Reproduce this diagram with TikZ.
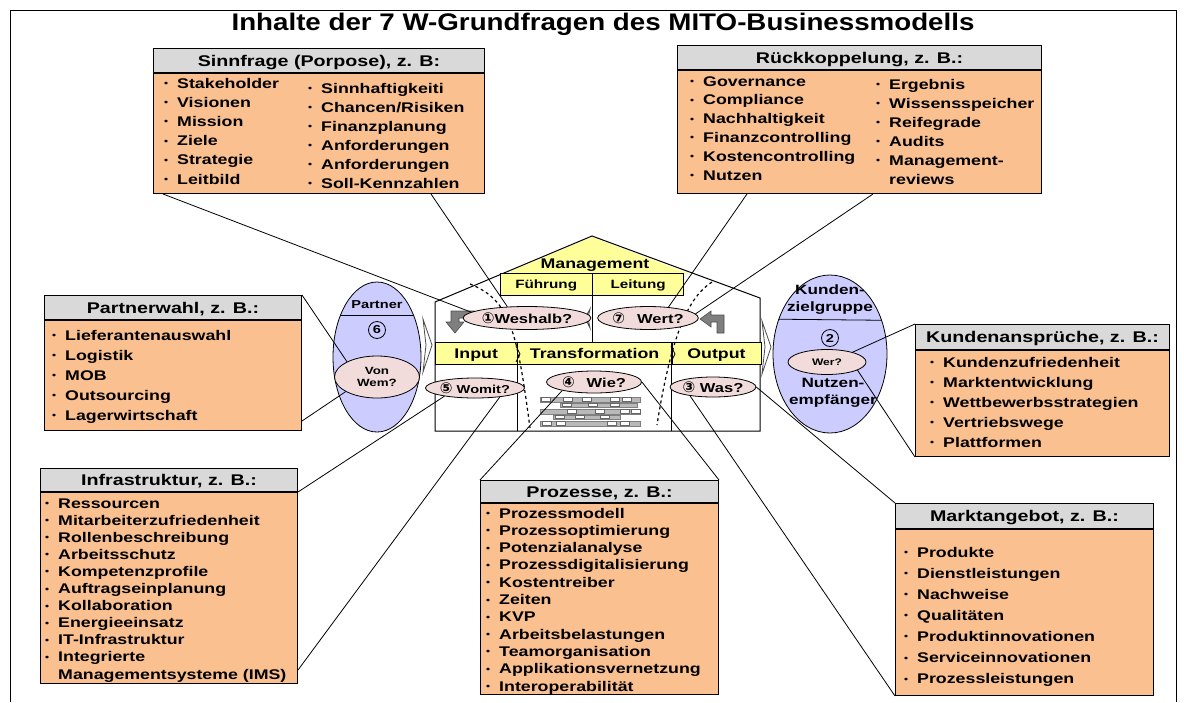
\documentclass[tikz,border=0pt]{standalone}
\usepackage{fontspec}
\setmainfont{Liberation Sans}[FakeStretch=1.27]
\newfontfamily\titlefont{Liberation Sans}[FakeStretch=1.155]
\newfontfamily\symfont{DejaVu Sans}
\usepackage{tikz}
\usetikzlibrary{positioning,shapes.geometric}
\definecolor{headgray}{HTML}{D9D9D9}
\definecolor{boxorange}{HTML}{FAC090}
\definecolor{askpink}{HTML}{F2DCDB}
\definecolor{partyblue}{HTML}{CCCCFF}
\definecolor{mgmtyellow}{HTML}{FFFF99}
\definecolor{arrowgray}{HTML}{7F7F7F}
\newcommand\bul{\makebox[13pt][l]{\raisebox{1.5pt}{\fontsize{9}{9}\selectfont\textbullet}}}
\newcommand\circnum[1]{{\symfont\fontsize{15}{15}\selectfont #1}}
\tikzset{%
  boxhead/.style={
    draw,
    line width=1pt,
    fill=headgray,
    inner sep=0pt,
    minimum height=24,
    text height=11pt,
    text depth=0pt,
    font=\bfseries\fontsize{15.5}{18}\selectfont
  },
  boxbody/.style={
    draw,
    line width=1pt,
    fill=boxorange,
    inner sep=0pt
  },
  entry/.style={
    anchor=west,
    inner sep=0pt,
    text height=10pt,
    text depth=0pt,
    font=\bfseries\fontsize{14}{16}\selectfont
  },
  ask/.style={
    ellipse,
    draw,
    line width=0.8pt,
    fill=askpink,
    inner sep=0pt,
    font=\bfseries\fontsize{13}{15}\selectfont
  },
  party/.style={
    ellipse,
    draw,
    line width=0.8pt,
    fill=partyblue,
    inner sep=0pt
  },
  bandcell/.style={
    draw,
    fill=mgmtyellow,
    inner sep=0pt,
    minimum height=22,
    text depth=0pt,
    font=\bfseries\fontsize{14}{16}\selectfont
  },
  housetxt/.style={
    inner sep=0pt,
    text depth=0pt,
    font=\bfseries\fontsize{14}{16}\selectfont
  },
  numcircle/.style={
    draw,
    circle,
    line width=0.8pt,
    minimum size=17,
    inner sep=0pt,
    font=\bfseries\fontsize{11.5}{12}\selectfont
  },
  chev/.style={draw=gray!60!black, fill=white, line width=0.8pt},
  link/.style={line width=0.8pt},
}

\begin{document}
\begin{tikzpicture}[x=1pt, y=-1pt]
  \useasboundingbox (0,0) rectangle (1184,702);
  \draw[line width=1pt] (10,702) -- (10,10) -- (1176,10) -- (1176,702);
  \node[font=\titlefont\bfseries\fontsize{24}{28}\selectfont, anchor=base] (title) at (603,30)
    {Inhalte der 7 W-Grundfragen des MITO-Businessmodells};

  % house
  \coordinate (hbl) at (435,431);
  \coordinate (hbr) at (760,431);
  \fill[mgmtyellow] (592,237) -- (504,274) -- (690,274) -- cycle;
  \draw[line width=1pt] (hbl) -- (435,302) -- (592,236) -- (760,298) -- (hbr) -- cycle;
  \node[bandcell, minimum width=82, anchor=north west] (inp) at (435,342) {Input};
  \node[bandcell, minimum width=154, right=0pt of inp] (trans) {Transformation};
  \node[bandcell, minimum width=89, right=0pt of trans] (outp) {Output};
  \draw[dashed, line width=1.2pt] (470,284) .. controls (510,300) and (517,330) .. (530,428);
  \draw[dashed, line width=1.2pt] (712,282) .. controls (690,296) and (672,330) .. (657,425);
  \node[bandcell, font=\bfseries\fontsize{12}{14}\selectfont, minimum width=92, anchor=north west] (fuehr) at (500,273) {Führung};
  \node[bandcell, font=\bfseries\fontsize{12}{14}\selectfont, minimum width=91, right=0pt of fuehr] (leit) {Leitung};
  \node[housetxt] (mgmt) at (595,264) {Management};
  \draw[line width=1pt] (fuehr.south east) -- (fuehr.south east |- inp.north);
  \draw[line width=1pt] (inp.south east) -- (inp.south east |- hbl);
  \draw[line width=1pt] (trans.south east) -- (trans.south east |- hbl);
  \draw[line width=0.8pt] (516,346) -- (520,354) -- (516,362);
  \draw[line width=0.8pt] (671,346) -- (675,354) -- (671,362);
  \filldraw[chev] (590,309) -- (585,318) -- (590,328) -- (588,318) -- cycle;
  \filldraw[chev] (423,319) -- (432,345) -- (423,372) -- (426,345) -- cycle;
  \filldraw[chev] (762,321) -- (771,347) -- (762,374) -- (765,347) -- cycle;
  \filldraw[fill=arrowgray, draw=black!70, line width=0.6pt]
    (474,311) -- (451,311) -- (451,322) -- (446,322) -- (455,333) -- (464,322) -- (459,322) -- (459,318) -- (474,318) -- cycle;
  \filldraw[fill=arrowgray, draw=black!70, line width=0.6pt]
    (724,333) -- (724,315) -- (711,315) -- (711,311) -- (700,319) -- (711,327) -- (711,322) -- (717,322) -- (717,333) -- cycle;
  \foreach \ya/\h/\xa/\xb/\ws in {397/5/540/640/{541,563,582,610,622}, 403/4/560/637/{562,588,610},
      409/5/540/640/{567,595,620,631}, 415/4/553/620/{555,575,600}, 421/5/540/640/{542,556,607,620}} {
    \filldraw[fill=gray!55, draw=gray] (\xa,\ya) rectangle (\xb,\ya+\h);
    \foreach \w in \ws
      \filldraw[fill=white, draw=gray!80!black, line width=0.3pt] (\w,\ya+0.5) rectangle (\w+9,\ya+\h-0.5);
  }

  % questions
  \node[ask, minimum width=98, minimum height=23] (wesh) at (527,318) {\circnum{①}Weshalb?};
  \node[ask, minimum width=97, minimum height=23] (wert) at (648,318) {\circnum{⑦}\hspace{12pt}Wert?};
  \node[ask, minimum width=77, minimum height=20, font=\bfseries\fontsize{11.5}{13}\selectfont] (womit) at (475,388) {\circnum{⑤} Womit?};
  \node[ask, minimum width=95, minimum height=22] (wie) at (594,382) {\circnum{④}\hspace{12pt}Wie?};
  \node[ask, minimum width=70, minimum height=20] (was) at (713,387) {\circnum{③} Was?};

  % partner and customers
  \node[party, minimum width=88, minimum height=150] (partner) at (377,357) {};
  \draw[line width=0.8pt] (partner.132) -- (partner.48);
  \node[housetxt, font=\bfseries\fontsize{11.5}{13}\selectfont] (partnertxt) at (377,305) {Partner};
  \node[numcircle] (six) at (377,330) {6};
  \node[ask, minimum width=85, minimum height=42, align=center, font=\bfseries\fontsize{10.5}{12.5}\selectfont] (vonwem) at (377,377) {Von\\Wem?};
  \node[party, minimum width=114, minimum height=158] (kunden) at (830,354) {};
  \draw[line width=0.8pt] (kunden.146.5) -- (kunden.33.5);
  \node[inner sep=0pt, align=center, font=\bfseries\fontsize{13.5}{17}\selectfont] (zielgr) at (830,300) {Kunden-\\zielgruppe};
  \node[numcircle] (two) at (830,338) {2};
  \node[inner sep=0pt, align=center, font=\bfseries\fontsize{13.5}{17}\selectfont] (nutzen) at (833,393) {Nutzen-\\empfänger};
  \node[ask, minimum width=78, minimum height=25, font=\bfseries\fontsize{9.5}{11}\selectfont] (wer) at (827,362) {Wer?};

  % boxes
  \node[boxhead, minimum width=331, anchor=north west] (sinnH) at (153,48) {Sinnfrage (Porpose), z. B:};
  \node[boxbody, minimum width=331, minimum height=120, below=0pt of sinnH] (sinnB) {};
  \foreach \t [count=\i] in {Stakeholder,Visionen,Mission,Ziele,Strategie,Leitbild}
    \node[entry] (sinnL\i) at (164,{83+19.2*(\i-1)}) {\bul\t};
  \foreach \t [count=\i] in {Sinnhaftigkeiti,Chancen/Risiken,Finanzplanung,Anforderungen,Anforderungen,Soll-Kennzahlen}
    \node[entry] (sinnR\i) at (308,{88+19*(\i-1)}) {\bul\t};

  \node[boxhead, minimum width=364, anchor=north west] (rueckH) at (677,45) {Rückkoppelung, z. B.:};
  \node[boxbody, minimum width=364, minimum height=123, below=0pt of rueckH] (rueckB) {};
  \foreach \t [count=\i] in {Governance,Compliance,Nachhaltigkeit,Finanzcontrolling,Kostencontrolling,Nutzen}
    \node[entry] (rueckL\i) at (690,{81+18.8*(\i-1)}) {\bul\t};
  \foreach \t [count=\i] in {Ergebnis,Wissensspeicher,Reifegrade,Audits,Management-}
    \node[entry] (rueckR\i) at (876,{84+19*(\i-1)}) {\bul\t};
  \node[entry] (rueckR6) at (889,179) {reviews};

  \node[boxhead, minimum width=257, anchor=north west] (partH) at (44,295) {Partnerwahl, z. B.:};
  \node[boxbody, minimum width=257, minimum height=110, below=0pt of partH] (partB) {};
  \foreach \t [count=\i] in {Lieferantenauswahl,Logistik,MOB,Outsourcing,Lagerwirtschaft}
    \node[entry] (part\i) at (52,{335+20*(\i-1)}) {\bul\t};

  \node[boxhead, minimum width=257, minimum height=23, anchor=north west] (infraH) at (40,468) {Infrastruktur, z. B.:};
  \node[boxbody, minimum width=257, minimum height=191, below=0pt of infraH] (infraB) {};
  \foreach \t [count=\i] in {Ressourcen,Mitarbeiterzufriedenheit,Rollenbeschreibung,Arbeitsschutz,Kompetenzprofile,
      Auftragseinplanung,Kollaboration,Energieeinsatz,IT-Infrastruktur,Integrierte}
    \node[entry] (infra\i) at (45,{503+17.1*(\i-1)}) {\bul\t};
  \node[entry] (infra11) at (58,674) {Managementsysteme (IMS)};

  \node[boxhead, minimum width=238, minimum height=22, anchor=north west] (prozH) at (480,480) {Prozesse, z. B.:};
  \node[boxbody, minimum width=238, minimum height=191, below=0pt of prozH] (prozB) {};
  \foreach \t [count=\i] in {Prozessmodell,Prozessoptimierung,Potenzialanalyse,Prozessdigitalisierung,Kostentreiber,
      Zeiten,KVP,Arbeitsbelastungen,Teamorganisation,Applikationsvernetzung,Interoperabilität}
    \node[entry] (proz\i) at (486,{513+17.3*(\i-1)}) {\bul\t};

  \node[boxhead, minimum width=258, minimum height=25, anchor=north west] (marktH) at (895,503) {Marktangebot, z. B.:};
  \node[boxbody, minimum width=258, minimum height=166, below=0pt of marktH] (marktB) {};
  \foreach \t [count=\i] in {Produkte,Dienstleistungen,Nachweise,Qualitäten,Produktinnovationen,Serviceinnovationen,Prozessleistungen}
    \node[entry] (markt\i) at (904,{552+21.1*(\i-1)}) {\bul\t};

  \node[boxhead, minimum width=254, minimum height=25, anchor=north west] (kundH) at (915,324) {Kundenansprüche, z. B.:};
  \node[boxbody, minimum width=254, minimum height=106, below=0pt of kundH] (kundB) {};
  \foreach \t [count=\i] in {Kundenzufriedenheit,Marktentwicklung,Wettbewerbsstrategien,Vertriebswege,Plattformen}
    \node[entry] (kund\i) at (930,{362+20*(\i-1)}) {\bul\t};

  % connectors
  \draw[link] ([xshift=10pt]sinnB.south west) -- (wesh.174);
  \draw[link] ([xshift=-54pt]sinnB.south east) -- (wesh.150);
  \draw[link] ([xshift=70pt]rueckB.south west) -- (wert.28);
  \draw[link] ([xshift=196pt]rueckB.south west) -- (wert.5);
  \draw[link] (partH.north east) -- (vonwem.153);
  \draw[link] ([yshift=10pt]partB.south east) -- (vonwem.205);
  \draw[link] (infraB.north east) -- (womit.195);
  \draw[link] ([yshift=14pt]infraB.south east) -- (womit.340);
  \draw[link] (prozH.north west) -- (wie.195);
  \draw[link] (prozH.north east) -- (wie.0);
  \draw[link] (marktH.north west) -- (was.0);
  \draw[link] (marktB.south west) -- (was.201);
  \draw[link] (kundH.north west) -- (wer.21);
  \draw[link] (kundB.south west) -- (wer.345);
\end{tikzpicture}
\end{document}
